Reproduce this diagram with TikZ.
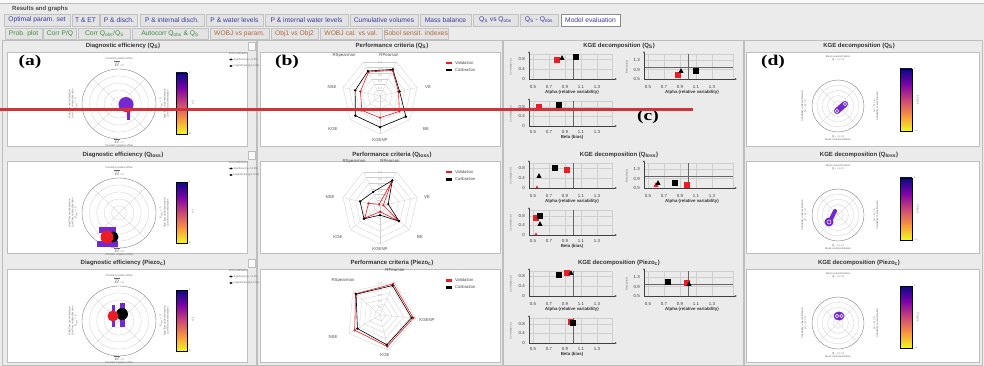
\documentclass[tikz,border=0pt]{standalone}
\usepackage{fontspec}
\setmainfont{Liberation Sans}
\newfontfamily\annfont{Liberation Serif}
\usetikzlibrary{calc,arrows.meta}
\definecolor{bgc}{HTML}{EBEBEB}
\definecolor{tabfill}{HTML}{E3E3E3}
\definecolor{tabline}{HTML}{C2C2C2}
\definecolor{tabblue}{HTML}{3A3AA0}
\definecolor{tabgreen}{HTML}{3C8C3C}
\definecolor{tabbrown}{HTML}{B5693A}
\definecolor{frameline}{HTML}{BEBEBE}
\definecolor{annred}{HTML}{D0343A}
\definecolor{valred}{HTML}{EC1C24}
\definecolor{gridc}{HTML}{CFCFCF}
\definecolor{blobc}{HTML}{7328D0}
\definecolor{pa}{HTML}{0D0887}
\definecolor{pb}{HTML}{7E03A8}
\definecolor{pc}{HTML}{CC4778}
\definecolor{pd}{HTML}{F89540}
\definecolor{pe}{HTML}{F0F921}
\tikzset{
  tabst/.style={draw=tabline, fill=tabfill, inner sep=0pt, minimum height=11.5pt, font=\fontsize{6.7}{7}\selectfont},
  titlest/.style={font=\bfseries\fontsize{6}{7}\selectfont, text=black!80, inner sep=0pt},
  boxst/.style={draw=frameline, fill=white, line width=0.5pt},
  gridst/.style={draw=gridc, line width=0.3pt},
  ringst/.style={draw=black!50, line width=0.4pt},
  axst/.style={draw=black!75, line width=0.45pt},
  refst/.style={draw=black!60, line width=0.45pt},
  tinyst/.style={font=\fontsize{2.6}{3}\selectfont, text=black!60, inner sep=0pt, align=center},
  ticklab/.style={font=\fontsize{4.4}{5}\selectfont, text=black!75, inner sep=0pt},
  axlab/.style={font=\bfseries\fontsize{4.4}{5}\selectfont, text=black!80, inner sep=0pt},
  radlab/.style={font=\fontsize{4.3}{5}\selectfont, text=black!70, inner sep=0pt},
  ringlab/.style={font=\fontsize{3}{3}\selectfont, text=black!35, inner sep=0pt},
  annst/.style={font=\annfont\bfseries\fontsize{15}{16}\selectfont, inner sep=0pt, xscale=1.3},
  legst/.style={font=\fontsize{4.2}{5}\selectfont, text=black!70, inner sep=0pt, anchor=west},
  arrowax/.style={axst, -{Latex[length=2.2pt,width=2pt]}},
}
\newcommand{\tabn}[6]{\node[tabst, text=#5, minimum width=#3pt] (#1) at (#2,#4) {#6};}
\newcommand{\smark}[3]{\fill[#3] ({#1-2.9},{#2-2.9}) rectangle ({#1+2.9},{#2+2.9});}
\newcommand{\tmark}[3]{\fill[#3] ({#1},{#2-2.8}) -- ({#1-2.5},{#2+1.8}) -- ({#1+2.5},{#2+1.8}) -- cycle;}
\newcommand{\tmarks}[3]{\fill[#3] ({#1},{#2-1.5}) -- ({#1-1.3},{#2+1}) -- ({#1+1.3},{#2+1}) -- cycle;}
\newcommand{\cbar}[4]{%
  \pgfmathsetmacro{\cbh}{(#4-#2)/4}
  \shade[top color=pa, bottom color=pb] (#1,#2) rectangle (#3,{#2+\cbh+0.3});
  \shade[top color=pb, bottom color=pc] (#1,{#2+\cbh}) rectangle (#3,{#2+2*\cbh+0.3});
  \shade[top color=pc, bottom color=pd] (#1,{#2+2*\cbh}) rectangle (#3,{#2+3*\cbh+0.3});
  \shade[top color=pd, bottom color=pe] (#1,{#2+3*\cbh}) rectangle (#3,#4);
  \draw[black, line width=0.5pt] (#1,#2) rectangle (#3,#4);
}
\newcommand{\radarbase}[6]{% cx cy N start R id
  \begin{scope}[shift={(#1,#2)}, y=1pt]
    \foreach \k in {1,...,6}{
      \foreach \j in {1,...,#3}{
        \draw[gridst] ({#4+(\j-1)*360/#3}:{#5*\k/6}) -- ({#4+\j*360/#3}:{#5*\k/6});
      }
    }
    \foreach \j in {1,...,#3}{\draw[gridst] (0,0) -- ({#4+\j*360/#3}:#5);}
    \foreach \k/\t in {1/0.2,2/0.4,3/0.6,4/0.8,5/1.0}{\node[ringlab] (rg#6\k) at (90:{#5*\k/6+1.6}) {\t};}
  \end{scope}
}
\newcommand{\radarpoly}[5]{% cx cy color first list
  \begin{scope}[shift={(#1,#2)}, y=1pt]
    \draw[draw=#3, line width=0.6pt, line join=round] (#4) \foreach \a/\r in {#5}{ -- (\a:\r)} -- cycle;
    \foreach \a/\r in {#5}{\fill[#3] (\a:\r) circle [radius=1.3];}
  \end{scope}
}
\newcommand{\rowcommon}[3]{%
  \node[titlest] (dt#1) at (123,46) {Diagnostic efficiency (#2)};
  \node[titlest] (pt#1) at (392,46) {Performance criteria (#2)};
  \node[titlest] (kt#1) at (619,46) {KGE decomposition (#2)};
  \node[titlest] (kp#1) at (859,46) {KGE decomposition (#2)};
  \draw[boxst] (7,52) rectangle (247,#3);
  \draw[boxst] (260,52) rectangle (500,#3);
  \draw[boxst] (746,52) rectangle (979,#3);
  \draw[draw=frameline, fill=white!70!bgc] (248,42) rectangle (255,50);
  % diagnostic polar plot
  \foreach \f in {0.2,0.4,0.6,0.8}{\draw[gridst] (119,104) ellipse [x radius={37*\f}, y radius={35*\f}];}
  \foreach \a in {45,135,225,315}{\draw[gridst] (119,104) -- ++(\a:37 and 35);}
  \draw[ringst] (119,104) ellipse [x radius=37, y radius=35];
  \node[tinyst] (dtop#1) at (119,62) {Constant positive offset\\$\overline{B}$ > 0};
  \node[tinyst] (dbot#1) at (119,143) {$\overline{B}$ < 0\\Constant negative offset};
  \node[tinyst, rotate=90] (dlef#1) at (73,104) {High flow overestimation\\Low flow underestimation\\B\textsubscript{slope} < 0};
  \node[tinyst, rotate=90] (drig#1) at (164,104) {B\textsubscript{slope} > 0\\High flow underestimation\\Low flow overestimation};
  \cbar{176}{73}{187}{134}
  \node[tinyst, anchor=west] (dc1#1) at (189,73) {1};
  \node[tinyst, anchor=west] (dc0#1) at (189,134) {0};
  \node[tinyst, rotate=90] (dcl#1) at (193,103) {r [-]};
  \node[tinyst, anchor=west] (dlg#1) at (229,54) {Error estimation:};
  \fill[black] (231,59.5) ellipse [x radius=1.7, y radius=1];
  \node[tinyst, anchor=west] (dlh#1) at (233.5,59.5) {Significant (p < 0.05)};
  \fill[black] (231,66) ellipse [x radius=1.7, y radius=1];
  \node[tinyst, anchor=west] (dll#1) at (233.5,66) {Insignificant (p ≥ 0.05)};
  % KGE scatter A
  \foreach \v in {0.4,0.8}{\draw[gridst] (529,{79-25*\v}) -- (612,{79-25*\v});}
  \foreach \v in {0.5,0.7,0.9,1.1,1.3}{\draw[gridst] ({533+80*(\v-0.5)},54) -- ({533+80*(\v-0.5)},79);}
  \draw[gridst] (529,54) -- (612,54) -- (612,79);
  \draw[refst] (573,54) -- (573,79);
  \draw[arrowax] (529,79) -- (617,79);
  \draw[arrowax] (529,79) -- (529,51);
  \foreach \v [count=\i] in {0.5,0.7,0.9,1.1,1.3}{\node[ticklab] (xa#1\i) at ({533+80*(\v-0.5)},87) {\v};}
  \node[ticklab, anchor=east] (ya#1a) at (525,59) {0.8};
  \node[ticklab, anchor=east] (ya#1b) at (525,69) {0.4};
  \node[ticklab, anchor=east] (ya#1c) at (525,79) {0};
  \node[axlab] (la#1) at (572,92.5) {Alpha (relative variability)};
  \node[tinyst, rotate=90] (ta#1) at (511,67) {Correlation (r)};
  % KGE scatter B
  \foreach \v in {0.9,1.3}{\draw[gridst] (644,{79-23.75*(\v-0.5)}) -- (733,{79-23.75*(\v-0.5)});}
  \foreach \v in {0.5,0.7,0.9,1.1,1.3}{\draw[gridst] ({648+80*(\v-0.5)},54) -- ({648+80*(\v-0.5)},79);}
  \draw[gridst] (644,54) -- (733,54) -- (733,79);
  \draw[refst] (688,54) -- (688,79);
  \draw[refst] (644,67.1) -- (733,67.1);
  \draw[arrowax] (644,79) -- (737,79);
  \draw[arrowax] (644,79) -- (644,51);
  \foreach \v [count=\i] in {0.5,0.7,0.9,1.1,1.3}{\node[ticklab] (xb#1\i) at ({648+80*(\v-0.5)},87) {\v};}
  \node[ticklab, anchor=east] (yb#1a) at (640,60) {1.3};
  \node[ticklab, anchor=east] (yb#1b) at (640,69.5) {0.9};
  \node[ticklab, anchor=east] (yb#1c) at (640,79) {0.5};
  \node[axlab] (lb#1) at (692,92.5) {Alpha (relative variability)};
  \node[tinyst, rotate=90] (tb#1) at (627,67) {Beta (bias)};
  % KGE scatter C
  \foreach \v in {0.4,0.8}{\draw[gridst] (529,{126-24*\v}) -- (612,{126-24*\v});}
  \foreach \v in {0.5,0.7,0.9,1.1,1.3}{\draw[gridst] ({533+80*(\v-0.5)},101) -- ({533+80*(\v-0.5)},126);}
  \draw[gridst] (529,101) -- (612,101) -- (612,126);
  \draw[refst] (573,101) -- (573,126);
  \draw[arrowax] (529,126) -- (617,126);
  \draw[arrowax] (529,126) -- (529,98);
  \foreach \v [count=\i] in {0.5,0.7,0.9,1.1,1.3}{\node[ticklab] (xc#1\i) at ({533+80*(\v-0.5)},132) {\v};}
  \node[ticklab, anchor=east] (yc#1a) at (525,106.8) {0.8};
  \node[ticklab, anchor=east] (yc#1b) at (525,116.4) {0.4};
  \node[ticklab, anchor=east] (yc#1c) at (525,126) {0};
  \node[axlab] (lc#1) at (572,137.5) {Beta (bias)};
  \node[tinyst, rotate=90] (tc#1) at (511,114) {Correlation (r)};
  % KGE polar plot
  \foreach \f in {0.2,0.4,0.6,0.8}{\draw[gridst] (838,106) circle [radius={26*\f}];}
  \foreach \a in {45,135,225,315}{\draw[gridst] (838,106) -- ++(\a:26);}
  \draw[ringst] (838,106) circle [radius=26];
  \node[tinyst] (ktop#1) at (838,58.5) {Mean overestimation\\(β − 1) > 0};
  \node[tinyst] (kbot#1) at (838,138.5) {(β − 1) < 0\\Mean underestimation};
  \node[tinyst, rotate=90] (klef#1) at (804,106) {Variability underestimation\\(α − 1) < 0};
  \node[tinyst, rotate=90] (krig#1) at (876,106) {(α − 1) > 0\\Variability overestimation};
  \cbar{900}{69}{912}{131}
  \node[tinyst, anchor=west] (kc1#1) at (914,69) {1};
  \node[tinyst, anchor=west] (kc0#1) at (914,131) {−∞};
  \node[tinyst, rotate=90] (kcl#1) at (918,100) {KGE [-]};
  % legend of performance criteria
  \fill[valred] (446,62) rectangle (452,64.5);
  \node[legst] (lv#1) at (455,63.3) {Validation};
  \fill[black] (446,69) rectangle (452,71.5);
  \node[legst] (lk#1) at (455,70.3) {Calibration};
}
\begin{document}
\begin{tikzpicture}[x=1pt,y=-1pt]
\useasboundingbox (0,0) rectangle (984,366);
\fill[bgc] (0,0) rectangle (984,366);
\fill[white!70!bgc] (0,0) rectangle (984,3);
\draw[frameline] (0,3.5) -- (984,3.5);
\node[font=\bfseries\fontsize{6}{7}\selectfont, text=black!70, anchor=west, inner sep=0pt] (restitle) at (12,9) {Results and graphs};
% tabs row 1
\tabn{tA}{37}{66}{20}{tabblue}{Optimal param. set}
\tabn{tB}{85.5}{27}{20}{tabblue}{T \& ET}
\tabn{tC}{119}{37}{20}{tabblue}{P \& disch.}
\tabn{tD}{172}{64}{20}{tabblue}{P \& internal disch.}
\tabn{tE}{234.5}{57}{20}{tabblue}{P \& water levels}
\tabn{tF}{306.5}{83}{20}{tabblue}{P \& internal water levels}
\tabn{tG}{384}{68}{20}{tabblue}{Cumulative volumes}
\tabn{tH}{445.5}{51}{20}{tabblue}{Mass balance}
\tabn{tI}{495.5}{45}{20}{tabblue}{Q\textsubscript{S} vs Q\textsubscript{obs}}
\tabn{tJ}{539}{38}{20}{tabblue}{Q\textsubscript{S} - Q\textsubscript{obs}}
\node[tabst, fill=white, draw=black!45, text=tabblue, minimum width=59pt] (tK) at (590.5,20) {Model evaluation};
% tabs row 2
\tabn{uA}{23.5}{37}{33.5}{tabgreen}{Prob. plot}
\tabn{uB}{60}{33}{33.5}{tabgreen}{Corr P/Q}
\tabn{uC}{104.5}{52}{33.5}{tabgreen}{Corr Q\textsubscript{obs}/Q\textsubscript{S}}
\tabn{uD}{170}{76}{33.5}{tabgreen}{Autocorr Q\textsubscript{obs} \& Q\textsubscript{S}}
\tabn{uE}{239.5}{59}{33.5}{tabbrown}{WOBJ vs param.}
\tabn{uF}{294.5}{47}{33.5}{tabbrown}{Obj1 vs Obj2}
\tabn{uG}{351}{62}{33.5}{tabbrown}{WOBJ cal. vs val.}
\tabn{uH}{416}{64}{33.5}{tabbrown}{Sobol sensit. indexes}
% column frames
\draw[frameline] (2,40.5) rectangle (256,365);
\draw[frameline] (257,40.5) rectangle (502,365);
\draw[frameline] (503,40.5) rectangle (743,365);
\draw[frameline] (744,40.5) rectangle (982,365);
% ===== row 1 =====
\begin{scope}
\rowcommon{1}{Q\textsubscript{S}}{146}
\fill[blobc] (126,104.5) circle [radius=7.5];
\fill[blobc] (126.5,111) rectangle (129.5,120);
\fill[valred] (128,110) circle [radius=3];
\radarbase{380}{96}{7}{12.857}{38}{a}
\radarpoly{380}{96}{valred}{12.86:19}{12.86/19, 64.29/28.5, 115.71/26.6, 167.14/20.1, 218.57/23.2, 270/21.7, 321.43/24.7}
\radarpoly{380}{96}{black}{12.86:20.1}{12.86/20.1, 64.29/29.6, 115.71/27.7, 167.14/25.5, 218.57/31.5, 270/31.2, 321.43/33.1}
\node[radlab] (rRS1) at (344,55) {RSpearman};
\node[radlab] (rRP1) at (389,55) {RPearson};
\node[radlab] (rVE1) at (428,87) {VE};
\node[radlab] (rBE1) at (426,129) {BE};
\node[radlab] (rKN1) at (380,140) {KGENP};
\node[radlab] (rKG1) at (333,129) {KGE};
\node[radlab] (rNS1) at (332,87) {NSE};
\smark{557}{60}{valred}\tmark{562}{58}{black}\smark{576}{57}{black}
\smark{678}{75}{valred}\tmark{681}{71}{black}\smark{696}{71}{black}
\smark{539}{107}{valred}\smark{559}{105}{black}
\draw[blobc, line width=6pt, line cap=round] (837,111) -- (845,104);
\draw[white, line width=0.5pt] (837,111) circle [radius=1.8] (845,104) circle [radius=1.8];
\node[annst] (annA) at (30,62) {(a)};
\node[annst] (annB) at (287,62) {(b)};
\node[annst] (annC) at (648,117) {(c)};
\node[annst] (annD) at (773,62) {(d)};
\end{scope}
% ===== row 2 =====
\begin{scope}[shift={(0,109)}]
\rowcommon{2}{Q\textsubscript{loss}}{144}
\fill[blobc] (99,118) rectangle (116,124);
\fill[blobc] (97,132) rectangle (118,138);
\fill[black] (113,128) circle [radius=5.5];
\fill[valred] (107,128) circle [radius=6.5];
\radarbase{380}{97}{7}{12.857}{38}{b}
\radarpoly{380}{97}{valred}{12.86:3.4}{12.86/3.4, 64.29/26.6, 115.71/1.9, 167.14/11.8, 218.57/19.4, 270/5.7, 321.43/23.9}
\radarpoly{380}{97}{black}{12.86:8.4}{12.86/8.4, 64.29/28.5, 115.71/15.6, 167.14/20.5, 218.57/20.5, 270/9.1, 321.43/24.3}
\node[radlab] (rRS2) at (354,52) {RSpearman};
\node[radlab] (rRP2) at (390,52) {RPearson};
\node[radlab] (rVE2) at (427,88) {VE};
\node[radlab] (rBE2) at (420,128) {BE};
\node[radlab] (rKN2) at (380,140) {KGENP};
\node[radlab] (rKG2) at (338,128) {KGE};
\node[radlab] (rNS2) at (330,88) {NSE};
\smark{555}{59}{black}\smark{567}{61}{valred}\tmark{539}{67}{black}\tmarks{537}{78}{valred}
\tmark{656}{76}{valred}\tmark{658}{74}{black}\smark{675}{74}{black}\smark{687}{76}{valred}
\smark{536}{109}{valred}\smark{540}{107}{black}\tmark{540}{115}{black}\tmarks{536}{125}{valred}
\draw[blobc, line width=4pt, line cap=round] (830,112) -- (835,102);
\fill[blobc] (829,113) circle [radius=4.5];
\draw[white, line width=0.5pt] (829,113) circle [radius=2];
\end{scope}
% ===== row 3 =====
\begin{scope}[shift={(0,217)}]
\rowcommon{3}{Piezo\textsubscript{c}}{145}
\fill[blobc] (111.5,88) rectangle (114.5,110);
\fill[blobc] (119.5,86) rectangle (124.5,110);
\fill[black] (122,97) circle [radius=6];
\fill[valred] (113,99) circle [radius=5.5];
\radarbase{380}{98}{5}{67}{36}{c}
\radarpoly{380}{98}{valred}{67:33.8}{67/33.8, 139/32.4, 211/29.5, 283/32.4, 355/33.5}
\radarpoly{380}{98}{black}{67:32}{67/32, 139/31.7, 211/26.3, 283/30.6, 355/31.7}
\node[radlab] (rRP3) at (395,53) {RPearson};
\node[radlab] (rRS3) at (343,63) {RSpearman};
\node[radlab] (rKN3) at (427,103) {KGENP};
\node[radlab] (rKG3) at (385,138) {KGE};
\node[radlab] (rNS3) at (333,120) {NSE};
\smark{559}{58}{black}\smark{567}{56}{valred}\tmark{571}{56}{black}
\smark{668}{65}{black}\smark{687}{66}{valred}\tmark{689}{67}{black}
\smark{571}{105}{valred}\smark{573}{106}{black}
\fill[blobc] (839,99) ellipse [x radius=5.5, y radius=4.5];
\draw[white, line width=0.5pt] (837,99) circle [radius=1.8] (841.5,99) circle [radius=1.8];
\end{scope}
% red annotation line
\draw[annred, line width=3.6pt] (0,109.5) -- (693,109.5);
\end{tikzpicture}
\end{document}
